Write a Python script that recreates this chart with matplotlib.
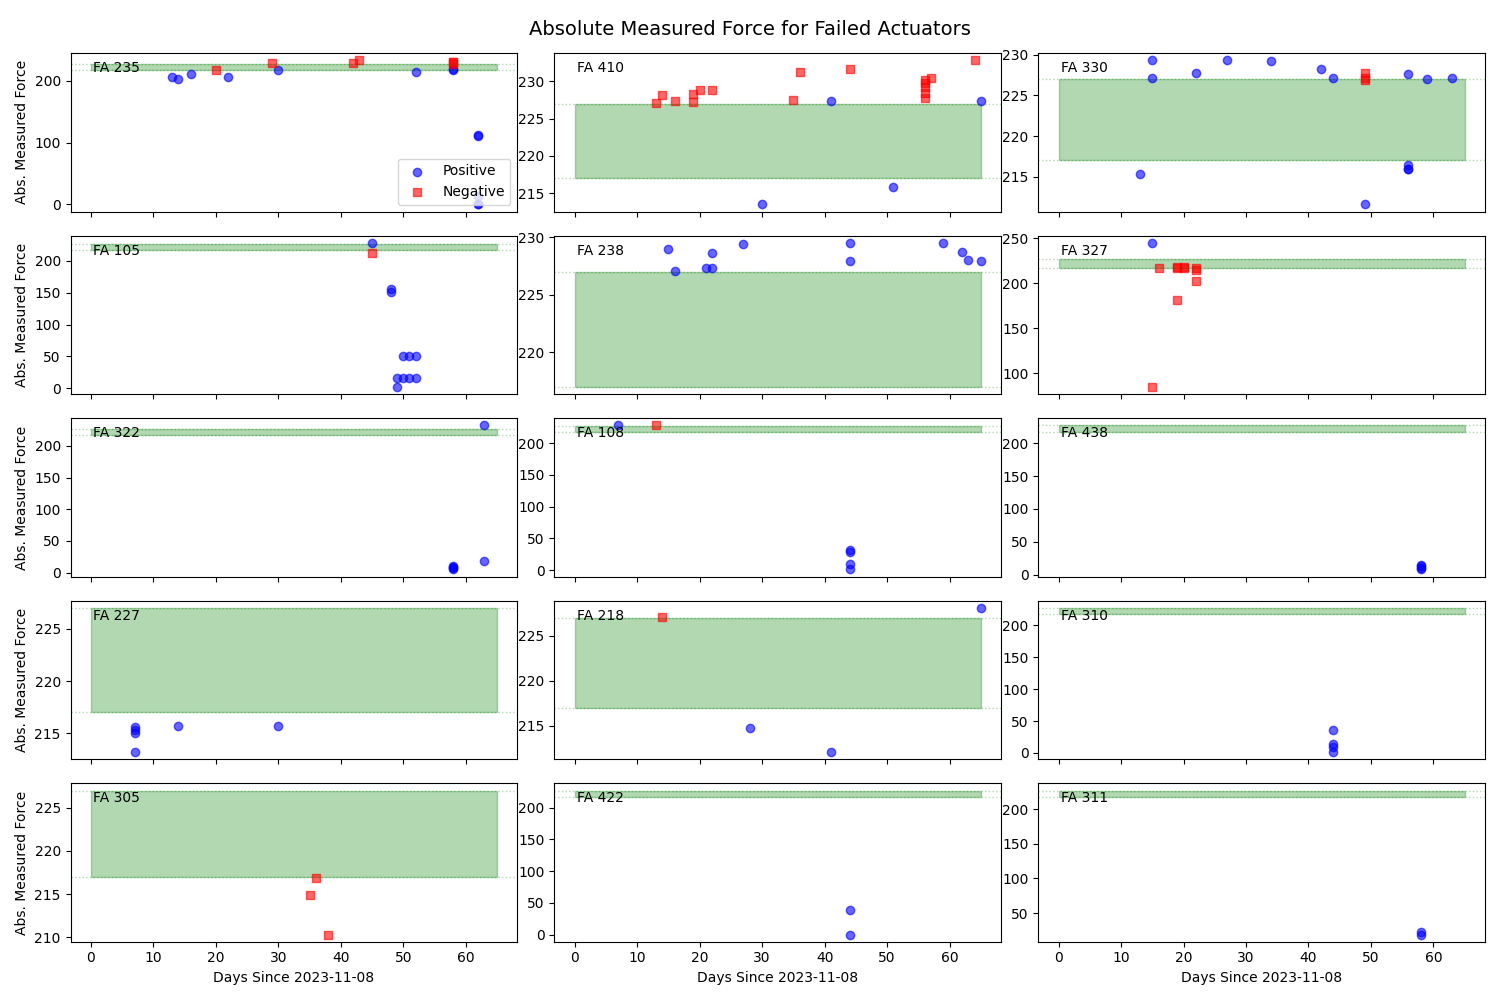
import matplotlib
matplotlib.use("Agg")
import matplotlib.pyplot as plt

# actuators in grid order (row by row)
actuators = ["FA 235", "FA 410", "FA 330", "FA 105", "FA 238",
             "FA 327", "FA 322", "FA 108", "FA 438", "FA 227",
             "FA 218", "FA 310", "FA 305", "FA 422", "FA 311"]

pos_days = [
    [13, 14, 16, 22, 30, 52, 58, 58, 62, 62, 62, 62, 62],
    [30, 41, 51, 65],
    [13, 15, 15, 22, 27, 34, 42, 44, 49, 56, 56, 56, 56, 59, 63],
    [45, 48, 48, 50, 51, 52, 49, 50, 51, 52, 49],
    [15, 16, 21, 22, 22, 27, 44, 44, 59, 62, 63, 65],
    [15],
    [63, 63, 58, 58, 58, 58],
    [7, 44, 44, 44, 44],
    [58, 58, 58, 58],
    [7, 7, 7, 7, 14, 30],
    [28, 41, 65],
    [44, 44, 44, 44],
    [],
    [44, 44],
    [58, 58],
]
pos_force = [
    [206, 203, 211, 206, 218, 214, 217, 219, 113, 111, 14, 1, 0],
    [213.5, 227.3, 215.8, 227.3],
    [215.4, 229.3, 227.2, 227.7, 229.3, 229.2, 228.3, 227.2, 211.6, 227.6, 216.4, 216.0, 215.9, 227.0, 227.1],
    [228, 156, 151, 50, 50, 50, 16, 16, 16, 16, 2],
    [229.0, 227.1, 227.35, 228.6, 227.3, 229.4, 229.5, 227.9, 229.5, 228.7, 228.0, 227.9],
    [245],
    [232, 19, 5, 7, 9, 10],
    [228, 31, 28, 10, 1],
    [8, 10, 13, 15],
    [215.6, 215.3, 215.0, 213.2, 215.65, 215.65],
    [214.8, 212.1, 228.1],
    [36, 14, 9, 1.5],
    [],
    [39, 0],
    [22, 19],
]
neg_days = [
    [20, 29, 42, 43, 58, 58, 58],
    [13, 14, 16, 19, 19, 20, 22, 35, 36, 44, 56, 56, 56, 56, 56, 57, 64],
    [49, 49, 49],
    [45],
    [],
    [15, 16, 19, 19, 20, 20, 22, 22, 22, 19],
    [],
    [13],
    [],
    [],
    [14],
    [],
    [35, 36, 38],
    [],
    [],
]
neg_force = [
    [218, 229, 229, 233, 228, 230, 231],
    [227.1, 228.1, 227.3, 228.3, 227.2, 228.9, 228.9, 227.5, 231.2, 231.7, 227.8, 228.5, 229.2, 229.8, 230.2, 230.4, 232.8],
    [227.7, 227.2, 226.9],
    [213],
    [],
    [85, 217.5, 217.5, 218, 217.5, 218, 217.5, 215, 203, 182],
    [],
    [228],
    [],
    [],
    [227.1],
    [],
    [214.9, 216.9, 210.3],
    [],
    [],
]

# acceptable force band
band_low, band_high = 217, 227
band_days = [0, 65]

fig, axes = plt.subplots(5, 3, figsize=(15, 10), sharex=True)
axes = axes.flatten()

for i, ax in enumerate(axes):
    ax.fill_between(band_days, band_low, band_high, color='green', alpha=0.3)
    ax.axhline(band_low, color='green', linestyle=':', alpha=0.3, linewidth=1)
    ax.axhline(band_high, color='green', linestyle=':', alpha=0.3, linewidth=1)
    ax.scatter(pos_days[i], pos_force[i], color='blue', marker='o', alpha=0.6, label='Positive')
    ax.scatter(neg_days[i], neg_force[i], color='red', marker='s', alpha=0.6, label='Negative')
    ax.text(0.05, 0.95, actuators[i], transform=ax.transAxes, va='top', fontsize=10)
    if i % 3 == 0:
        ax.set_ylabel("Abs. Measured Force")
    if i >= 12:
        ax.set_xlabel("Days Since 2023-11-08")

axes[0].legend(loc='lower right')

fig.suptitle("Absolute Measured Force for Failed Actuators", fontsize=14)
plt.tight_layout()
plt.subplots_adjust(left=0.047, right=0.99, wspace=0.083)
plt.savefig("out.png", dpi=100)
